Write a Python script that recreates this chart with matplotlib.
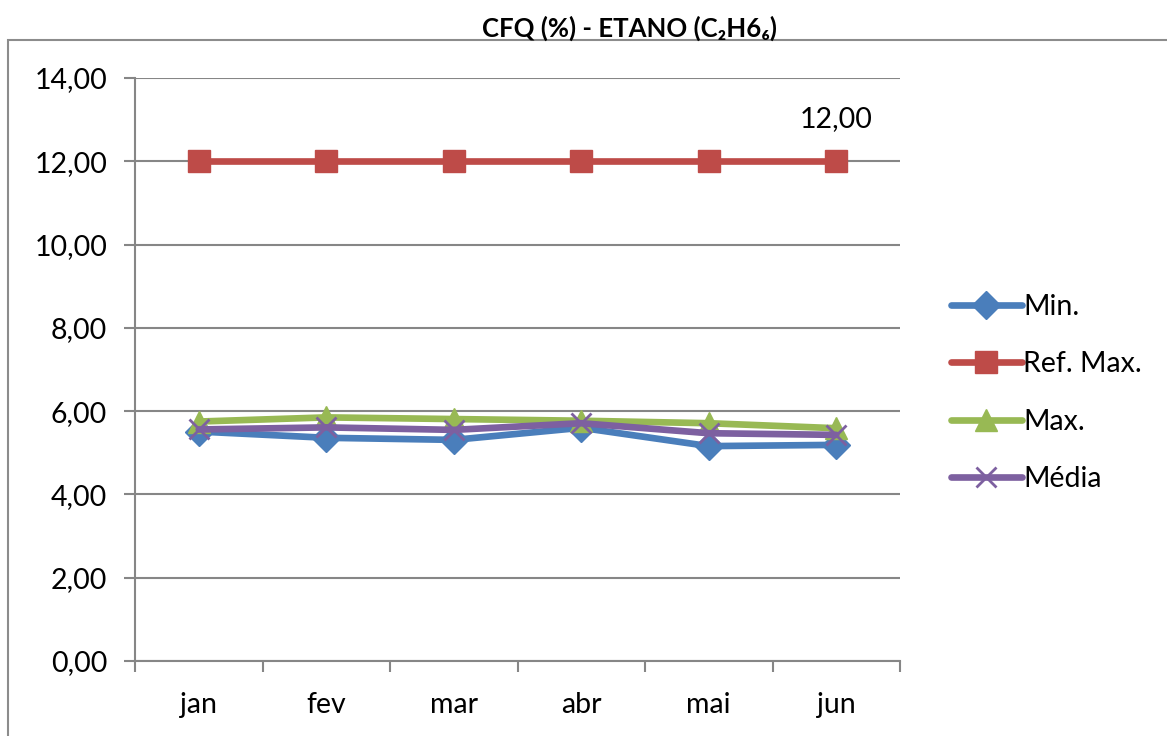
import matplotlib
matplotlib.use("Agg")
import matplotlib.pyplot as plt
from matplotlib.patches import Rectangle
from matplotlib.ticker import FuncFormatter, FixedLocator, NullFormatter

plt.rcParams['font.family'] = ['Lato', 'DejaVu Sans']

# --- data ---
months = ["jan", "fev", "mar", "abr", "mai", "jun"]
min_vals = [5.51, 5.36, 5.31, 5.60, 5.16, 5.19]
ref_max = [12.00, 12.00, 12.00, 12.00, 12.00, 12.00]
max_vals = [5.75, 5.85, 5.81, 5.77, 5.71, 5.59]
media_vals = [5.56, 5.61, 5.55, 5.71, 5.47, 5.43]

series = [
    ("Min.", min_vals, "#4A7EBB", "D", 14),
    ("Ref. Max.", ref_max, "#BE4B48", "s", 16),
    ("Max.", max_vals, "#98B954", "^", 16),
    ("Média", media_vals, "#7D60A0", "x", 15),
]

fig = plt.figure(figsize=(11.67, 7.36), dpi=100)
ax = fig.add_axes([135 / 1167, 1 - 661 / 736, 765 / 1167, 583 / 736])

x = list(range(len(months)))
for name, vals, color, marker, ms in series:
    if marker == "x":
        ax.plot(x, vals, color=color, lw=4.8, marker=marker, ms=ms,
                mew=2, label=name, solid_capstyle="round")
    else:
        ax.plot(x, vals, color=color, lw=4.8, marker=marker, ms=ms,
                mec=color, mfc=color, label=name, solid_capstyle="round")

# data label on last reference point
ax.annotate("12,00", (x[-1], ref_max[-1]), xytext=(0, 21),
            textcoords="offset points", ha="center", va="bottom", fontsize=20.5)

ax.set_xlim(-0.5, len(months) - 0.5)
ax.set_ylim(0, 14)
ax.set_yticks([0, 2, 4, 6, 8, 10, 12, 14])
ax.yaxis.set_major_formatter(FuncFormatter(lambda v, p: f"{v:.2f}".replace(".", ",")))
ax.set_xticks(x)
ax.set_xticklabels(months)
ax.xaxis.set_minor_locator(FixedLocator([i - 0.5 for i in range(len(months) + 1)]))
ax.xaxis.set_minor_formatter(NullFormatter())
ax.tick_params(axis="x", which="major", length=0, pad=22, labelsize=20.5)
ax.tick_params(axis="x", which="minor", length=8, color="#868686", width=1.5)
ax.tick_params(axis="y", length=8, color="#868686", width=1.5, pad=12, labelsize=20.5)

ax.grid(axis="y", color="#868686", lw=1.5)
ax.set_axisbelow(True)
for s in ["top", "right"]:
    ax.spines[s].set_visible(False)
for s in ["left", "bottom"]:
    ax.spines[s].set_color("#868686")
    ax.spines[s].set_linewidth(1.5)

leg = fig.legend(loc="center left", bbox_to_anchor=(925 / 1167, 1 - 393 / 736),
                 frameon=False, fontsize=20.5, handlelength=2.5, handletextpad=0.05,
                 labelspacing=1.1)

# outer chart frame (cropped)
fig.add_artist(Rectangle((8 / 1167, -0.05), 1.1, 1 - 40 / 736 + 0.05,
                         transform=fig.transFigure, fill=False,
                         edgecolor="#8c8c8c", lw=1.5, clip_on=False))

fig.text(630 / 1167, 1 - 28 / 736, "CFQ (%) - ETANO (C₂H6₆)",
         ha="center", va="center", fontsize=18.5, fontweight="bold")

fig.savefig("out.png", dpi=100)
